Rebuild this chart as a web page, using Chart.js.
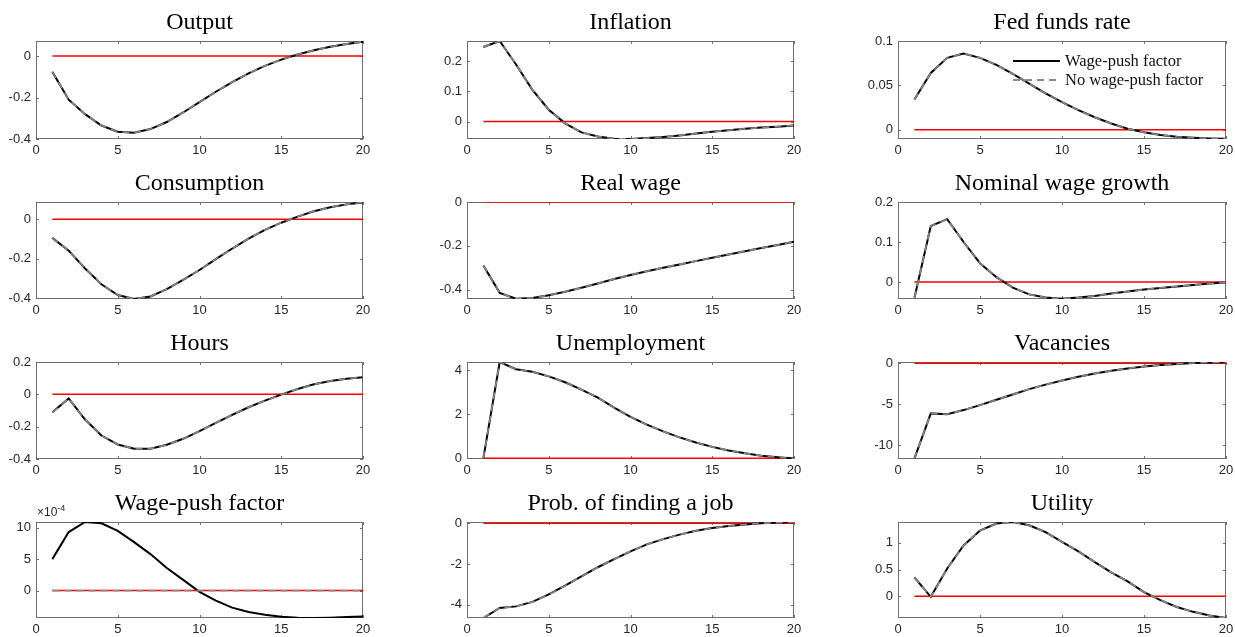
<!DOCTYPE html>
<html><head><meta charset="utf-8">
<script src="https://cdn.jsdelivr.net/npm/chart.js@4.4.1/dist/chart.umd.min.js"></script>
<style>
html,body{margin:0;padding:0;background:#fff;width:1235px;height:637px;overflow:hidden;position:relative;}
canvas{position:absolute;}
</style></head><body>
<script>
// ---------------- data ----------------
const periods = [1,2,3,4,5,6,7,8,9,10,11,12,13,14,15,16,17,18,19,20];
const xTicks = [0,5,10,15,20];
const titles = ['Output','Inflation','Fed funds rate','Consumption','Real wage','Nominal wage growth',
                'Hours','Unemployment','Vacancies','Wage-push factor','Prob. of finding a job','Utility'];
const seriesLabels = ['Wage-push factor','No wage-push factor'];
const zeroLine = [0,0,0,0,0,0,0,0,0,0,0,0,0,0,0,0,0,0,0,0];

const outputPush   = [-0.076,-0.21,-0.28,-0.335,-0.365,-0.37,-0.352,-0.318,-0.272,-0.222,-0.172,-0.125,-0.083,-0.047,-0.017,0.008,0.028,0.045,0.059,0.07];
const outputNoPush = [-0.076,-0.21,-0.28,-0.335,-0.365,-0.37,-0.352,-0.318,-0.272,-0.222,-0.172,-0.125,-0.083,-0.047,-0.017,0.008,0.028,0.045,0.059,0.07];
const inflationPush   = [0.247,0.267,0.189,0.105,0.039,-0.006,-0.036,-0.05,-0.057,-0.058,-0.055,-0.051,-0.046,-0.04,-0.034,-0.029,-0.024,-0.02,-0.017,-0.013];
const inflationNoPush = [0.247,0.267,0.189,0.105,0.039,-0.006,-0.036,-0.05,-0.057,-0.058,-0.055,-0.051,-0.046,-0.04,-0.034,-0.029,-0.024,-0.02,-0.017,-0.013];
const fedPush   = [0.034,0.064,0.081,0.086,0.081,0.073,0.063,0.052,0.041,0.031,0.022,0.014,0.007,0.001,-0.003,-0.006,-0.008,-0.009,-0.0098,-0.0103];
const fedNoPush = [0.034,0.064,0.081,0.086,0.081,0.073,0.063,0.052,0.041,0.031,0.022,0.014,0.007,0.001,-0.003,-0.006,-0.008,-0.009,-0.0098,-0.0103];
const consPush   = [-0.095,-0.16,-0.25,-0.33,-0.385,-0.405,-0.392,-0.355,-0.308,-0.258,-0.203,-0.149,-0.099,-0.054,-0.018,0.013,0.04,0.06,0.075,0.085];
const consNoPush = [-0.095,-0.16,-0.25,-0.33,-0.385,-0.405,-0.392,-0.355,-0.308,-0.258,-0.203,-0.149,-0.099,-0.054,-0.018,0.013,0.04,0.06,0.075,0.085];
const realWagePush   = [-0.29,-0.415,-0.442,-0.438,-0.426,-0.41,-0.392,-0.372,-0.352,-0.333,-0.316,-0.3,-0.285,-0.27,-0.255,-0.24,-0.225,-0.21,-0.196,-0.181];
const realWageNoPush = [-0.29,-0.415,-0.442,-0.438,-0.426,-0.41,-0.392,-0.372,-0.352,-0.333,-0.316,-0.3,-0.285,-0.27,-0.255,-0.24,-0.225,-0.21,-0.196,-0.181];
const nomWagePush   = [-0.04,0.14,0.157,0.1,0.047,0.012,-0.014,-0.031,-0.039,-0.042,-0.039,-0.035,-0.029,-0.024,-0.019,-0.015,-0.011,-0.0075,-0.004,-0.001];
const nomWageNoPush = [-0.04,0.14,0.157,0.1,0.047,0.012,-0.014,-0.031,-0.039,-0.042,-0.039,-0.035,-0.029,-0.024,-0.019,-0.015,-0.011,-0.0075,-0.004,-0.001];
const hoursPush   = [-0.111,-0.025,-0.156,-0.255,-0.31,-0.337,-0.337,-0.312,-0.275,-0.228,-0.177,-0.127,-0.08,-0.039,-0.002,0.033,0.062,0.083,0.097,0.105];
const hoursNoPush = [-0.111,-0.025,-0.156,-0.255,-0.31,-0.337,-0.337,-0.312,-0.275,-0.228,-0.177,-0.127,-0.08,-0.039,-0.002,0.033,0.062,0.083,0.097,0.105];
const unempPush   = [0,4.37,4.04,3.93,3.72,3.45,3.12,2.75,2.3,1.88,1.53,1.22,0.95,0.72,0.52,0.36,0.23,0.12,0.05,-0.01];
const unempNoPush = [0,4.37,4.04,3.93,3.72,3.45,3.12,2.75,2.3,1.88,1.53,1.22,0.95,0.72,0.52,0.36,0.23,0.12,0.05,-0.01];
const vacPush   = [-11.6,-6.1,-6.2,-5.7,-5.1,-4.45,-3.8,-3.15,-2.6,-2.1,-1.65,-1.25,-0.92,-0.63,-0.4,-0.22,-0.08,0.02,0.1,0.15];
const vacNoPush = [-11.6,-6.1,-6.2,-5.7,-5.1,-4.45,-3.8,-3.15,-2.6,-2.1,-1.65,-1.25,-0.92,-0.63,-0.4,-0.22,-0.08,0.02,0.1,0.15];
const wpfPush   = [5.0e-4,9.3e-4,10.9e-4,10.7e-4,9.5e-4,7.7e-4,5.8e-4,3.6e-4,1.7e-4,-0.2e-4,-1.6e-4,-2.7e-4,-3.4e-4,-3.85e-4,-4.15e-4,-4.3e-4,-4.35e-4,-4.3e-4,-4.2e-4,-4.1e-4];
const wpfNoPush = [0,0,0,0,0,0,0,0,0,0,0,0,0,0,0,0,0,0,0,0];
const probPush   = [-4.65,-4.16,-4.08,-3.86,-3.49,-3.06,-2.61,-2.16,-1.76,-1.38,-1.04,-0.78,-0.56,-0.37,-0.24,-0.14,-0.06,0.0,0.03,0.06];
const probNoPush = [-4.65,-4.16,-4.08,-3.86,-3.49,-3.06,-2.61,-2.16,-1.76,-1.38,-1.04,-0.78,-0.56,-0.37,-0.24,-0.14,-0.06,0.0,0.03,0.06];
const utilPush   = [0.356,-0.01,0.52,0.95,1.23,1.36,1.39,1.33,1.2,1.02,0.84,0.64,0.45,0.28,0.08,-0.07,-0.2,-0.29,-0.36,-0.405];
const utilNoPush = [0.356,-0.01,0.52,0.95,1.23,1.36,1.39,1.33,1.2,1.02,0.84,0.64,0.45,0.28,0.08,-0.07,-0.2,-0.29,-0.36,-0.405];

const pushSeries   = [outputPush,inflationPush,fedPush,consPush,realWagePush,nomWagePush,hoursPush,unempPush,vacPush,wpfPush,probPush,utilPush];
const noPushSeries = [outputNoPush,inflationNoPush,fedNoPush,consNoPush,realWageNoPush,nomWageNoPush,hoursNoPush,unempNoPush,vacNoPush,wpfNoPush,probNoPush,utilNoPush];

const yTickValues = [
  [-0.4,-0.2,0],[0,0.1,0.2],[0,0.05,0.1],
  [-0.4,-0.2,0],[-0.4,-0.2,0],[0,0.1,0.2],
  [-0.4,-0.2,0,0.2],[0,2,4],[-10,-5,0],
  [0,5e-4,10e-4],[-4,-2,0],[0,0.5,1]
];
const yMins = [-0.4,-0.058,-0.0105,-0.405,-0.443,-0.0425,-0.4,-0.03,-11.65,-4.35e-4,-4.65,-0.405];
const yMaxs = [0.073,0.267,0.1,0.087,0,0.2,0.2,4.37,0.15,10.9e-4,0.06,1.39];

// ---------------- layout ----------------
const colLeft = [36,467,898], colWidth = [327,327,328];
const rowTop = [41,202,362,522], rowHeight = [98,97,97,96];
const ML = 40, MR = 40, MT = 41, MB = 24;
const SANS = "'Liberation Sans', Arial, Helvetica, sans-serif";
const SERIF = "'Liberation Serif', 'Times New Roman', serif";

Chart.defaults.font.family = SANS;
Chart.defaults.font.size = 13;
Chart.defaults.color = '#262626';

const framePlugin = {
  id: 'frame',
  beforeDatasetsDraw(chart) {
    const {ctx, chartArea: a, scales: {x, y}} = chart;
    ctx.save();
    ctx.strokeStyle = '#6e6e6e';
    ctx.lineWidth = 1;
    ctx.strokeRect(a.left + 0.5, a.top + 0.5, a.right - a.left - 1, a.bottom - a.top - 1);
    ctx.beginPath();
    const tl = 3;
    x.ticks.forEach(t => {
      const px = Math.round(x.getPixelForValue(t.value)) + 0.5;
      ctx.moveTo(px, a.bottom); ctx.lineTo(px, a.bottom - tl);
      ctx.moveTo(px, a.top); ctx.lineTo(px, a.top + tl);
    });
    y.ticks.forEach(t => {
      const py = Math.round(y.getPixelForValue(t.value)) + 0.5;
      ctx.moveTo(a.left, py); ctx.lineTo(a.left + tl, py);
      ctx.moveTo(a.right, py); ctx.lineTo(a.right - tl, py);
    });
    ctx.stroke();
    ctx.restore();
  },
  afterDraw(chart, args, opts) {
    const {ctx, chartArea: a} = chart;
    if (opts.exponent) {
      ctx.save();
      ctx.fillStyle = '#262626';
      ctx.textBaseline = 'alphabetic';
      ctx.font = "12px " + SANS;
      ctx.fillText('\u00d710', a.left + 1, a.top - 6);
      const w = ctx.measureText('\u00d710').width;
      ctx.font = "9px " + SANS;
      ctx.fillText('-4', a.left + 1 + w, a.top - 11);
      ctx.restore();
    }
    if (opts.legend) {
      ctx.save();
      const x0 = a.right - 213, x1 = a.right - 166, tx = a.right - 161;
      const rows = [a.top + 20, a.top + 39];
      const ds = chart.data.datasets;
      const ordered = [ds.find(d => d.label === seriesLabels[0]), ds.find(d => d.label === seriesLabels[1])];
      ordered.forEach((d, i) => {
        ctx.beginPath();
        ctx.setLineDash(d.borderDash || []);
        ctx.strokeStyle = d.borderColor;
        ctx.lineWidth = 2;
        ctx.moveTo(x0, rows[i]); ctx.lineTo(x1, rows[i]);
        ctx.stroke();
        ctx.setLineDash([]);
        ctx.fillStyle = '#111';
        ctx.font = "16.5px " + SERIF;
        ctx.textBaseline = 'middle';
        ctx.fillText(d.label, tx, rows[i] + 1);
      });
      ctx.restore();
    }
  }
};

for (let i = 0; i < 12; i++) {
  const c = i % 3, r = Math.floor(i / 3);
  const W = colWidth[c], H = rowHeight[r];
  const cv = document.createElement('canvas');
  const cw = W + ML + MR, ch = H + MT + MB;
  cv.width = cw; cv.height = ch;
  cv.style.width = cw + 'px'; cv.style.height = ch + 'px';
  cv.style.left = (colLeft[c] - ML) + 'px';
  cv.style.top = (rowTop[r] - MT) + 'px';
  document.body.appendChild(cv);
  const isWpf = i === 9;
  const ticksY = yTickValues[i];

  new Chart(cv.getContext('2d'), {
    type: 'line',
    data: {
      datasets: [
        { label: seriesLabels[1], data: periods.map((p, k) => ({x: p, y: noPushSeries[i][k]})),
          borderColor: '#8a8a8a', borderWidth: 1.6, borderDash: [7, 5], pointRadius: 0, tension: 0 },
        { label: seriesLabels[0], data: periods.map((p, k) => ({x: p, y: pushSeries[i][k]})),
          borderColor: '#000000', borderWidth: 2, pointRadius: 0, tension: 0 },
        { label: 'zero', data: periods.map((p, k) => ({x: p, y: zeroLine[k]})),
          borderColor: '#ff0000', borderWidth: 1.5, pointRadius: 0, tension: 0 }
      ]
    },
    options: {
      responsive: false,
      animation: false,
      events: [],
      devicePixelRatio: 1,
      layout: { padding: { left: 0, right: MR, top: 0, bottom: 0 } },
      plugins: {
        legend: { display: false },
        tooltip: { enabled: false },
        title: {
          display: true, text: titles[i], fullSize: false,
          color: '#000',
          font: { family: SERIF, size: 24, weight: 'normal', lineHeight: 1.2 },
          padding: { top: 8.6, bottom: MT - 8.6 - 28.8 }
        },
        frame: { legend: i === 2, exponent: isWpf }
      },
      scales: {
        x: {
          type: 'linear', min: 0, max: 20,
          grid: { display: false, drawTicks: false },
          border: { display: false },
          ticks: { padding: 4, maxRotation: 0, autoSkip: false, color: '#262626',
                   font: { family: SANS, size: 13 } },
          afterBuildTicks: s => { s.ticks = xTicks.map(v => ({value: v})); },
          afterFit: s => { s.height = MB; }
        },
        y: {
          type: 'linear', min: yMins[i], max: yMaxs[i],
          grid: { display: false, drawTicks: false },
          border: { display: false },
          ticks: {
            padding: 5, autoSkip: false, color: '#262626',
            font: { family: SANS, size: 13 },
            callback: v => isWpf ? String(Math.round(v * 1e4)) : String(parseFloat(v.toFixed(4)))
          },
          afterBuildTicks: s => { s.ticks = ticksY.map(v => ({value: v})); },
          afterFit: s => { s.width = ML; }
        }
      }
    },
    plugins: [framePlugin]
  });
}
</script>
</body></html>
